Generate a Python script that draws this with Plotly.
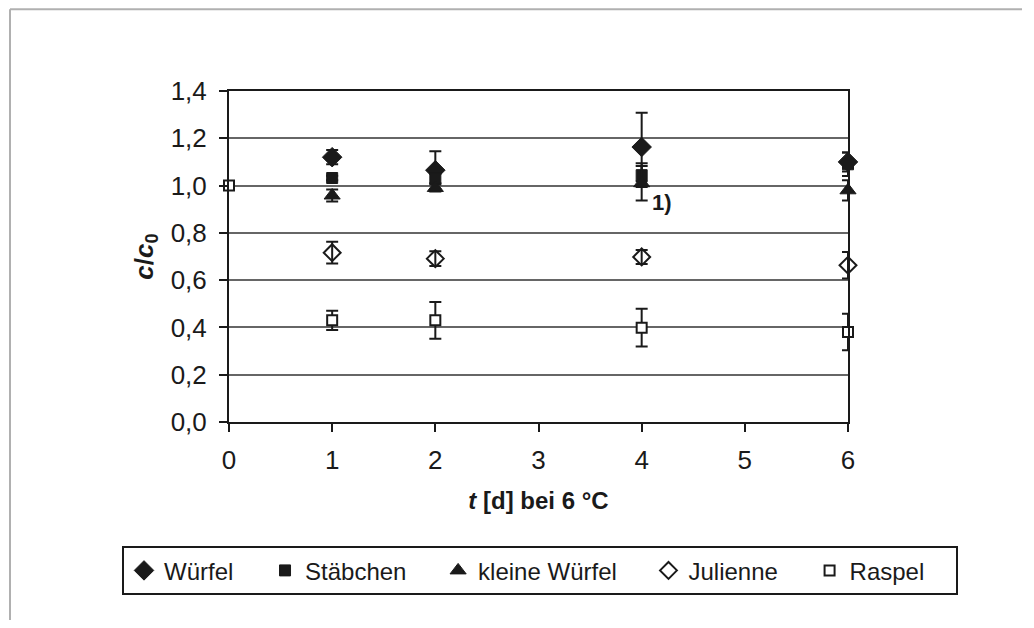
import plotly.graph_objects as go

days = [0, 1, 2, 4, 6]
wuerfel = [None, 1.12, 1.065, 1.163, 1.10]
wuerfel_err = [0.0, 0.03, 0.08, 0.145, 0.04]
staebchen = [None, 1.032, 1.03, 1.044, 1.09]
staebchen_err = [0.0, 0.01, 0.02, 0.05, 0.05]
kleine = [None, 0.958, 0.99, 1.01, 0.98]
kleine_err = [0.0, 0.025, 0.015, 0.073, 0.043]
julienne = [None, 0.716, 0.691, 0.698, 0.663]
julienne_err = [0.0, 0.046, 0.031, 0.03, 0.056]
raspel = [1.0, 0.43, 0.43, 0.399, 0.381]
raspel_err = [0.0, 0.041, 0.078, 0.08, 0.077]

x_ticks = [0, 1, 2, 3, 4, 5, 6]
y_ticks = [0.0, 0.2, 0.4, 0.6, 0.8, 1.0, 1.2, 1.4]

FONT = "Arial, 'Liberation Sans', sans-serif"
INK = "#1a1a1a"
PAD = "\u00a0\u00a0\u00a0\u00a0"

series = [
    ("Würfel", wuerfel, wuerfel_err, dict(symbol="diamond", size=15, color=INK, line=dict(color=INK, width=1))),
    ("Stäbchen", staebchen, staebchen_err, dict(symbol="square", size=11, color=INK, line=dict(color=INK, width=1))),
    ("kleine Würfel", kleine, kleine_err, dict(symbol="triangle-up", size=14, color=INK, line=dict(color=INK, width=1))),
    ("Julienne", julienne, julienne_err, dict(symbol="diamond-open", size=13, color=INK, line=dict(color=INK, width=2))),
    ("Raspel", raspel, raspel_err, dict(symbol="square", size=10, color="white", line=dict(color=INK, width=2))),
]

fig = go.Figure()
for name, vals, errs, mk in series:
    fig.add_trace(go.Scatter(
        x=days, y=vals, name=name + PAD, mode="markers", marker=mk,
        error_y=dict(type="data", array=errs, visible=True, color=INK, thickness=2, width=6),
        cliponaxis=False,
    ))

fig.add_annotation(x=4.197, y=0.929, text="<b>1)</b>", showarrow=False,
                   font=dict(family=FONT, size=22, color=INK))

# plot area in page pixels: x 229..848, y 90.7..421.7
PX0, PW, PY0, PH = 229.0, 619.0, 421.7, 331.0

# outer frame (top and left edge of the original figure box)
fig.add_shape(type="line", xref="paper", yref="paper",
              x0=(10 - PX0) / PW, x1=(1022 - PX0) / PW,
              y0=(PY0 - 9) / PH, y1=(PY0 - 9) / PH,
              line=dict(color="#b0b0b0", width=2))
fig.add_shape(type="line", xref="paper", yref="paper",
              x0=(10 - PX0) / PW, x1=(10 - PX0) / PW,
              y0=(PY0 - 9) / PH, y1=-0.8,
              line=dict(color="#b0b0b0", width=2))

fig.update_layout(
    width=1018, height=612,
    margin=dict(l=221, r=178, t=83, b=198, autoexpand=False),
    paper_bgcolor="white", plot_bgcolor="white",
    separators=",.",
    font=dict(family=FONT, color=INK),
    showlegend=True,
    legend=dict(
        orientation="h", xref="paper", yref="paper",
        x=(122 - PX0) / PW, xanchor="left",
        y=(PY0 - 546) / PH, yanchor="top",
        bordercolor=INK, borderwidth=2, bgcolor="white",
        font=dict(family=FONT, size=24, color=INK),
        itemwidth=30, tracegroupgap=0,
    ),
    xaxis=dict(
        range=[0, 6], tickvals=x_ticks, ticktext=[str(v) for v in x_ticks],
        showgrid=False, zeroline=False,
        showline=True, linecolor=INK, linewidth=2, mirror=True,
        ticks="outside", ticklen=8, tickcolor=INK, tickwidth=2,
        ticklabelstandoff=6,
        tickfont=dict(family=FONT, size=26, color=INK),
        title=dict(text="<b><i>t</i> [d] bei 6 °C</b>", standoff=18,
                   font=dict(family=FONT, size=24, color=INK)),
    ),
    yaxis=dict(
        range=[0, 1.4], tickvals=y_ticks, tickformat=".1f",
        showgrid=True, gridcolor="#666666", gridwidth=1.5, zeroline=False,
        showline=True, linecolor=INK, linewidth=2, mirror=True,
        ticks="outside", ticklen=8, tickcolor=INK, tickwidth=2,
        ticklabelstandoff=7,
        tickfont=dict(family=FONT, size=26, color=INK),
        title=dict(text="<b><i>c</i>/<i>c</i><sub>0</sub></b>", standoff=10,
                   font=dict(family=FONT, size=26, color=INK)),
    ),
)

fig.write_html("out.html")
